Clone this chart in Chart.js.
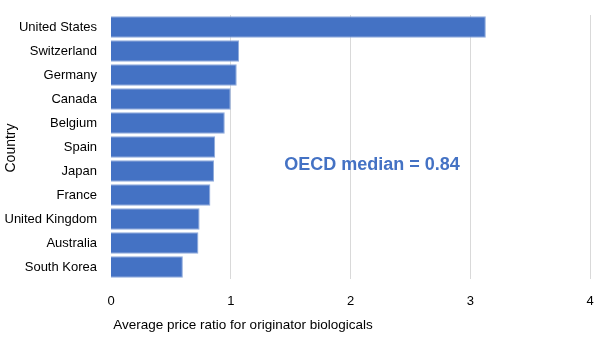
<!DOCTYPE html>
<html>
<head>
<meta charset="utf-8">
<script src="https://cdn.jsdelivr.net/npm/chart.js@4/dist/chart.umd.min.js"></script>
<style>
  html, body { margin: 0; padding: 0; background: #ffffff; }
  #wrap { width: 600px; height: 337px; }
</style>
</head>
<body>
<div id="wrap"><canvas id="c" width="600" height="337"></canvas></div>
<script>
const countries = ["United States", "Switzerland", "Germany", "Canada", "Belgium", "Spain", "Japan", "France", "United Kingdom", "Australia", "South Korea"];
const priceRatio = [3.13, 1.07, 1.05, 1.00, 0.95, 0.87, 0.86, 0.83, 0.74, 0.73, 0.60];
const xTicks = [0, 1, 2, 3, 4];
const annotationText = "OECD median = 0.84";
const xTitle = "Average price ratio for originator biologicals";
const yTitle = "Country";
const FONT = '"Liberation Sans", Arial, sans-serif';

const extrasPlugin = {
  id: 'extras',
  afterDraw(chart) {
    const { ctx, scales } = chart;
    const x = scales.x.getPixelForValue(2.18);
    const p5 = scales.y.getPixelForValue(5), p6 = scales.y.getPixelForValue(6);
    const y = p5 + 0.75 * (p6 - p5);
    ctx.save();
    ctx.font = 'bold 18px ' + FONT;
    ctx.fillStyle = '#4472C4';
    ctx.textAlign = 'center';
    ctx.textBaseline = 'middle';
    ctx.fillText(annotationText, x, y);
    ctx.font = '13.5px ' + FONT;
    ctx.fillStyle = '#000000';
    ctx.fillText(xTitle, 243, 325);
    ctx.font = '14px ' + FONT;
    ctx.translate(11, 148);
    ctx.rotate(-Math.PI / 2);
    ctx.fillText(yTitle, 0, 0);
    ctx.restore();
  }
};

new Chart(document.getElementById('c'), {
  type: 'bar',
  data: {
    labels: countries,
    datasets: [{
      data: priceRatio,
      backgroundColor: '#4472C4',
      borderColor: '#8eaadb',
      borderWidth: 1,
      barPercentage: 0.9,
      categoryPercentage: 1.0
    }]
  },
  options: {
    indexAxis: 'y',
    responsive: false,
    animation: false,
    devicePixelRatio: 1,
    layout: { padding: { top: 15, right: 10, left: 5, bottom: 30 } },
    plugins: { legend: { display: false }, tooltip: { enabled: false } },
    scales: {
      x: {
        min: 0, max: 4,
        afterBuildTicks(axis) { axis.ticks = xTicks.map(v => ({ value: v })); },
        afterFit(scale) { scale.height = 28; scale.paddingLeft = 0; scale.paddingRight = 0; },
        grid: { color: '#d9d9d9', drawTicks: false, lineWidth: ctx => ctx.tick && ctx.tick.value === 0 ? 0 : 1 },
        border: { display: false },
        ticks: { color: '#000000', padding: 15, font: { family: FONT, size: 13 } }
      },
      y: {
        afterFit(scale) { scale.width = 106; scale.paddingTop = 0; scale.paddingBottom = 0; },
        grid: { display: false, drawTicks: false },
        border: { display: false },
        ticks: { color: '#000000', padding: 14, font: { family: FONT, size: 13 } }
      }
    }
  },
  plugins: [extrasPlugin]
});
</script>
</body>
</html>
